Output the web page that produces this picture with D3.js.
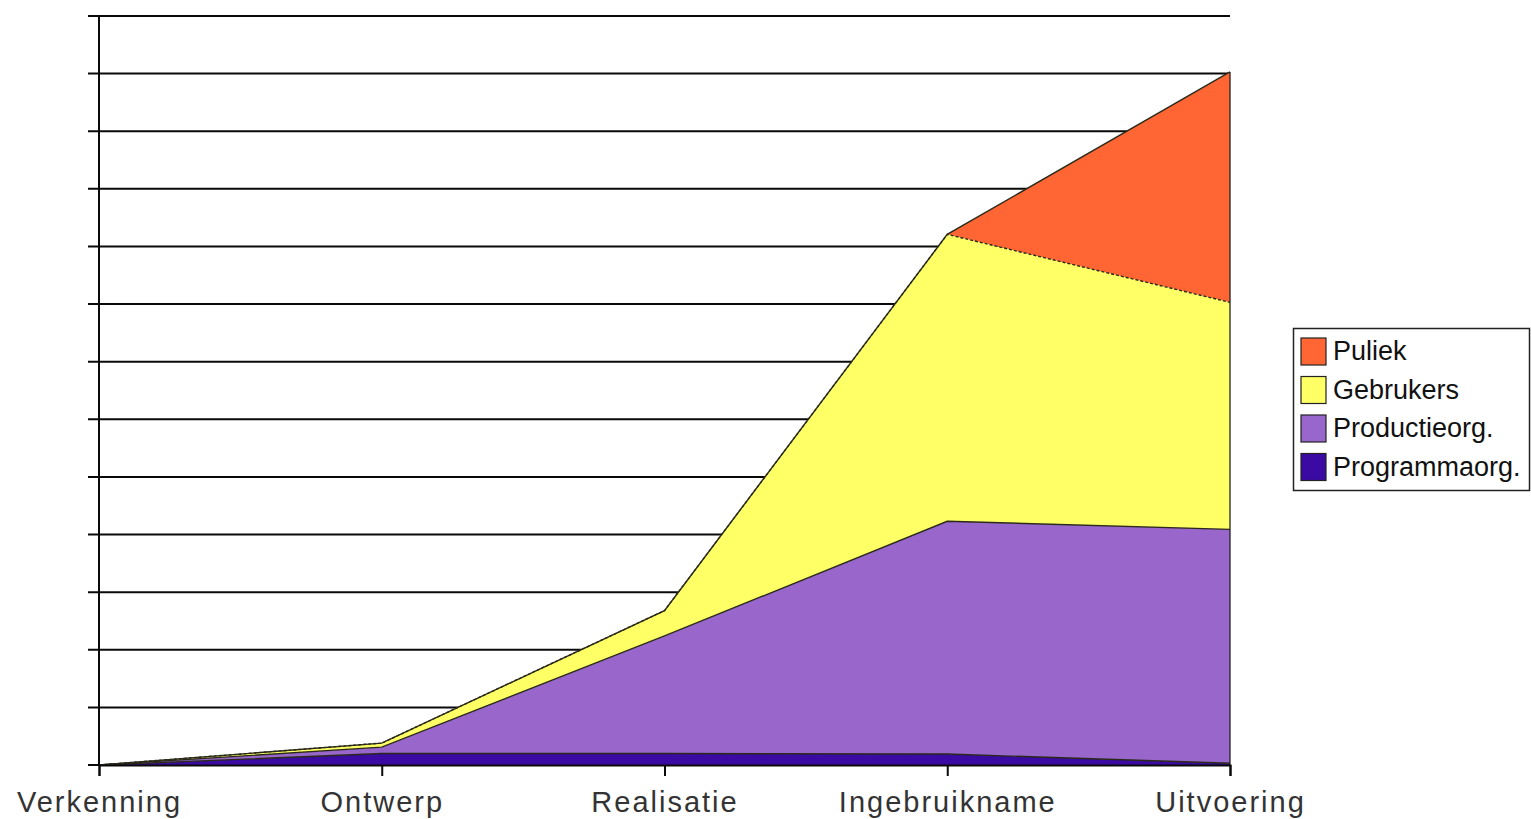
<!DOCTYPE html>
<html>
<head>
<meta charset="utf-8">
<script src="https://cdn.jsdelivr.net/npm/d3@7"></script>
<style>
  html, body { margin: 0; padding: 0; background: #fff; }
  svg { display: block; }
</style>
</head>
<body>
<div id="chart"></div>
<script>
// fases op de x-as
const phases = ["Verkenning", "Ontwerp", "Realisatie", "Ingebruikname", "Uitvoering"];

const programmaorg = [0, 2, 2, 1.9, 0.3];
const productieorg = [0, 1.1, 20.4, 40.4, 40.6];
const gebrukers = [0, 0.7, 4.4, 49.8, 39.4];
const publiek = [0, 0, 0, 0, 40];

const seriesNames = ["Programmaorg.", "Productieorg.", "Gebrukers", "Puliek"];
const seriesColors = ["#3a0aa3", "#9966cc", "#ffff66", "#ff6633"];
const yTicks = d3.range(0, 131, 10);

const width = 1531;
const height = 819;
const x0 = 99, x1 = 1230, yBase = 765, yTop = 16;

const rows = phases.map((p, i) => ({
  phase: p,
  "Programmaorg.": programmaorg[i],
  "Productieorg.": productieorg[i],
  "Gebrukers": gebrukers[i],
  "Puliek": publiek[i],
}));

const x = d3.scalePoint().domain(phases).range([x0, x1]);
const y = d3.scaleLinear().domain([0, 130]).range([yBase, yTop]);

const svg = d3.select("#chart").append("svg")
  .attr("width", width)
  .attr("height", height);

// horizontale rasterlijnen met korte streepjes links
svg.append("g")
  .selectAll("line")
  .data(yTicks)
  .join("line")
  .attr("x1", x0 - 11)
  .attr("x2", x1)
  .attr("y1", (d) => y(d))
  .attr("y2", (d) => y(d))
  .attr("stroke", "#0a0a0a")
  .attr("stroke-width", 2);

const stacked = d3.stack().keys(seriesNames)(rows);

const area = d3.area()
  .x((d) => x(d.data.phase))
  .y0((d) => y(d[0]))
  .y1((d) => y(d[1]));

const topLine = d3.line()
  .x((d) => x(d.data.phase))
  .y((d) => y(d[1]));

svg.append("g")
  .selectAll("path")
  .data(stacked)
  .join("path")
  .attr("d", area)
  .attr("fill", (d, i) => seriesColors[i]);

// randlijnen van de lagen
svg.append("g")
  .selectAll("path")
  .data(stacked)
  .join("path")
  .attr("d", topLine)
  .attr("fill", "none")
  .attr("stroke", "#2a2a1a")
  .attr("stroke-width", 1.4)
  .attr("stroke-dasharray", (d) => (d.key === "Gebrukers" ? "3,2" : null));

// rechterrand van het vlak
const last = stacked[stacked.length - 1];
svg.append("line")
  .attr("x1", x1).attr("x2", x1)
  .attr("y1", y(0))
  .attr("y2", y(last[last.length - 1][1]))
  .attr("stroke", "#222")
  .attr("stroke-width", 1.3);

// y-as
svg.append("line")
  .attr("x1", x0).attr("x2", x0)
  .attr("y1", yTop).attr("y2", yBase)
  .attr("stroke", "#0a0a0a")
  .attr("stroke-width", 2);

// x-as
const xAxis = svg.append("g")
  .attr("transform", `translate(0,${yBase})`)
  .call(d3.axisBottom(x).tickSize(11).tickPadding(15));
xAxis.select(".domain")
  .attr("stroke", "#0a0a0a")
  .attr("stroke-width", 2);
xAxis.selectAll(".tick line")
  .attr("stroke", "#0a0a0a")
  .attr("stroke-width", 2);
xAxis.selectAll(".tick text")
  .attr("fill", "#333")
  .attr("font-family", "'Liberation Sans', Arial, sans-serif")
  .attr("font-size", 29)
  .attr("letter-spacing", 2)
  .attr("dy", "0.71em");

// legenda
const legend = svg.append("g").attr("transform", "translate(1293,328)");
legend.append("rect")
  .attr("x", 0.5).attr("y", 0.5)
  .attr("width", 236).attr("height", 162)
  .attr("fill", "#fff")
  .attr("stroke", "#222")
  .attr("stroke-width", 1.5);

const legendItems = seriesNames.map((name, i) => ({ name, color: seriesColors[i] })).reverse();

const item = legend.selectAll("g.item")
  .data(legendItems)
  .join("g")
  .attr("class", "item")
  .attr("transform", (d, i) => `translate(8,${10 + i * 38.5})`);

item.append("rect")
  .attr("width", 25)
  .attr("height", 27)
  .attr("fill", (d) => d.color)
  .attr("stroke", "#222")
  .attr("stroke-width", 1.2);

item.append("text")
  .attr("x", 32)
  .attr("y", 22)
  .attr("font-family", "'Liberation Sans', Arial, sans-serif")
  .attr("font-size", 27)
  .attr("fill", "#111")
  .text((d) => d.name);
</script>
</body>
</html>
